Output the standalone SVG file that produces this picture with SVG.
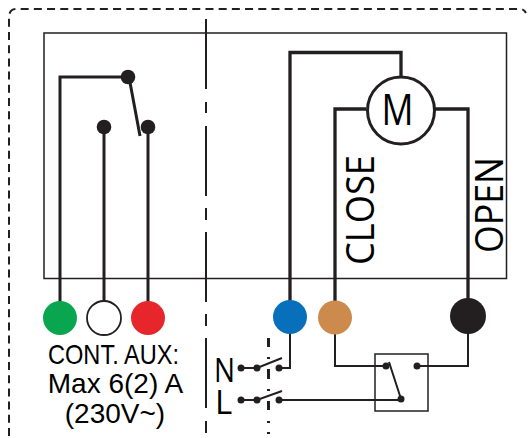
<svg xmlns="http://www.w3.org/2000/svg" width="528" height="438" viewBox="0 0 528 438">
<style>
.w{fill:none;stroke:#231f20;stroke-linejoin:miter}
.w3{stroke-width:3.300}
.w2{stroke-width:2}
.d{fill:#231f20}
text{font-family:"Open Sans","Noto Sans",sans-serif;fill:#000}
.a{font-family:"Liberation Sans",Arial,sans-serif;font-size:28px;text-anchor:middle}
</style>
<g id="frame">
<path class="w w2" d="M9 436V18Q9 9 16 9H520Q524 9 526 13" stroke-dasharray="8 5.200"/>
<rect class="w" style="stroke-width:1.500" x="44" y="33" width="462.500" height="245.500"/>
<path class="w w2" d="M206 19V89M206 102V113M206 126V196M206 208V220M206 232V302M206 314V326M206 338V408M206 421V433"/>
</g>
<g id="connectors">
<path class="w" stroke-width="3" d="M128 77H60V315M104 127V315M148 127V315M129 77L140 136"/>
<path class="w w3" d="M290 315V52.500H401V76M335 315V109H366M434 109H468V315"/>
<path class="w w2" d="M290 330V368H279M335 330V366H386M468 330V366H417M279 400H401M389 362L401 399"/>
<path class="w w2" d="M241 368H257L282 358M241 400H257L282 391"/>
<path class="w" stroke-width="3" d="M268.500 338V347M268.500 357V359M268.500 369V379M268.500 389V391M268.500 401V410M268.500 421V423M268.500 432V434"/>
</g>
<g id="aux-contact"><circle class="d" cx="128" cy="77" r="7.300"/><circle class="d" cx="104" cy="127" r="7.300"/><circle class="d" cx="148" cy="127" r="7.300"/></g>
<g id="motor"><circle cx="401" cy="110.500" r="33.500" fill="#fff" stroke="#231f20" stroke-width="3"/><text x="381.500" y="125" font-size="43" textLength="32" lengthAdjust="spacingAndGlyphs">M</text></g>
<g id="close-label"><text transform="translate(374 265) rotate(-90)" font-size="38" textLength="110" lengthAdjust="spacingAndGlyphs">CLOSE</text></g>
<g id="open-label"><text transform="translate(503 253) rotate(-90)" font-size="38" textLength="96" lengthAdjust="spacingAndGlyphs">OPEN</text></g>
<g id="terminal-green"><circle cx="60" cy="318" r="17" fill="#0aa64f"/></g>
<g id="terminal-white"><circle cx="104" cy="318" r="17" fill="#fff" stroke="#231f20" stroke-width="1.800"/></g>
<g id="terminal-red"><circle cx="148" cy="318" r="17" fill="#e7262b"/></g>
<g id="terminal-blue"><circle cx="290" cy="317" r="17" fill="#0870ba"/></g>
<g id="terminal-brown"><circle cx="335" cy="317.500" r="17" fill="#cc8b4d"/></g>
<g id="terminal-black"><circle cx="468" cy="316" r="18" fill="#231f20"/></g>
<g id="aux-label">
<text class="a" x="113.500" y="364" textLength="131" lengthAdjust="spacingAndGlyphs">CONT. AUX:</text>
<text class="a" x="115.500" y="393">Max 6(2) A</text>
<text class="a" x="115" y="423">(230V~)</text>
</g>
<g id="mains">
<text x="214" y="382" font-size="32" textLength="21" lengthAdjust="spacingAndGlyphs">N</text><text x="215" y="414" font-size="33">L</text>
<circle class="d" cx="241" cy="368" r="3.500"/><circle class="d" cx="257" cy="368" r="3.500"/><circle class="d" cx="279" cy="368" r="3.500"/>
<circle class="d" cx="241" cy="400" r="3.500"/><circle class="d" cx="257" cy="400" r="3.500"/><circle class="d" cx="279" cy="400" r="3.500"/>
</g>
<g id="selector-switch">
<rect class="w" style="stroke-width:1.500" x="375" y="354" width="53" height="57"/>
<circle class="d" cx="386" cy="366" r="3.500"/><circle class="d" cx="417" cy="366" r="3.500"/><circle class="d" cx="401" cy="399" r="3.500"/>
</g>
</svg>
